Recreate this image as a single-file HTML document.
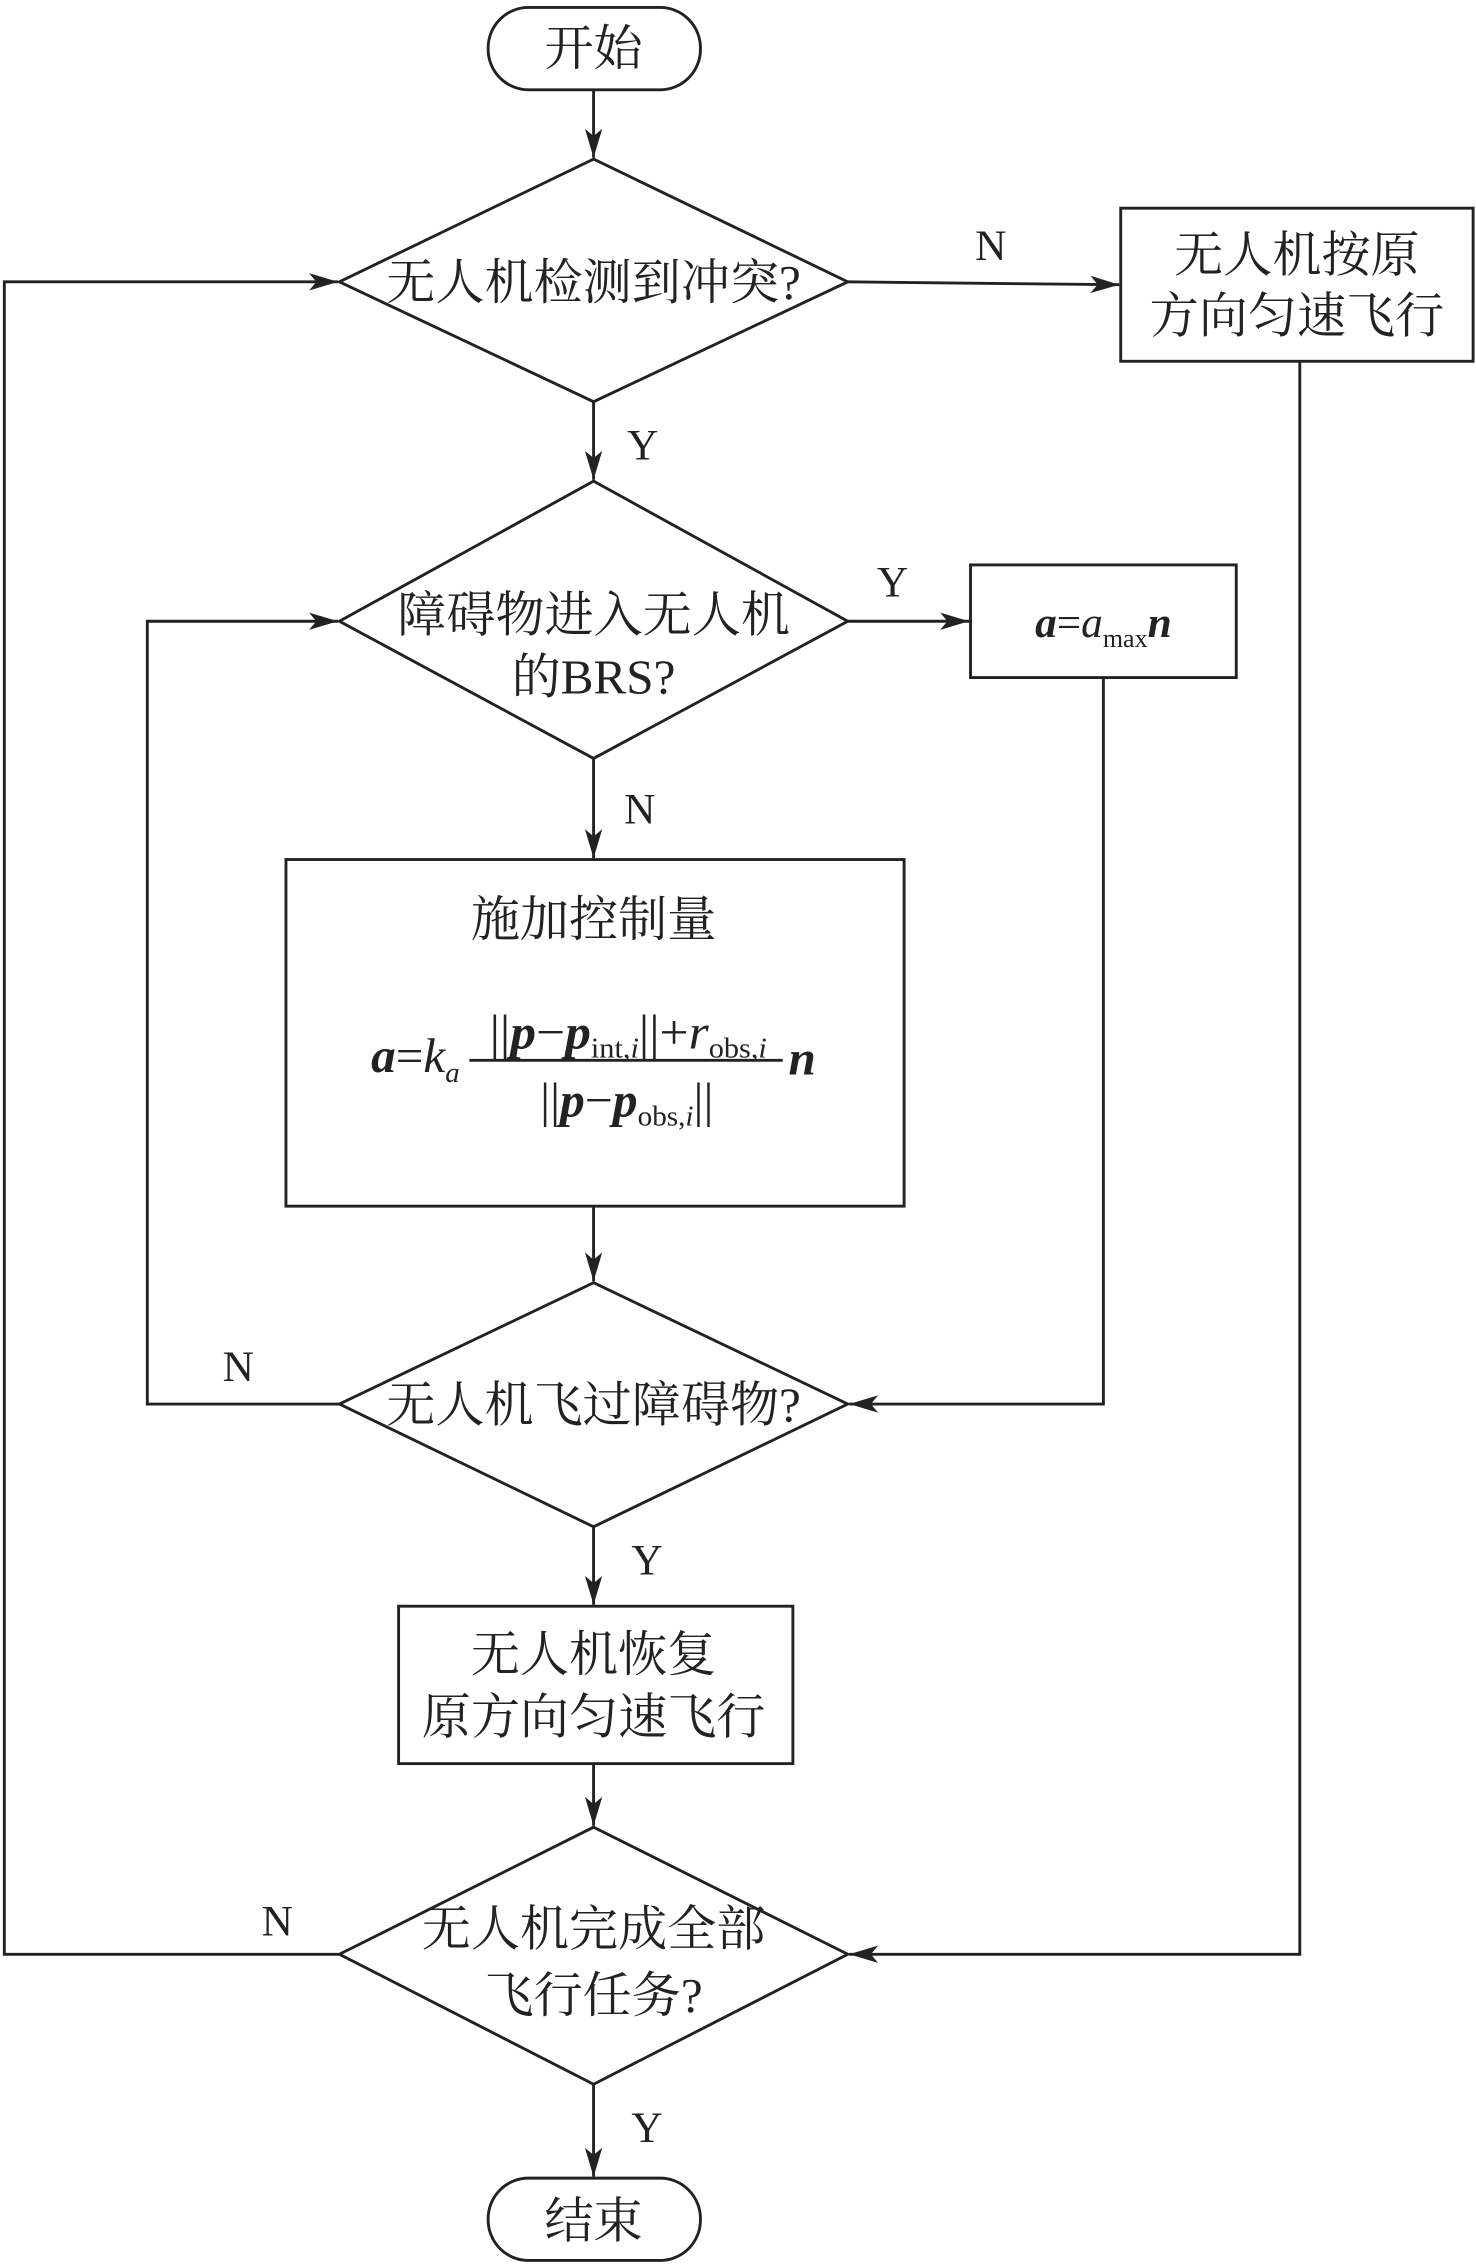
<!DOCTYPE html>
<html><head><meta charset="utf-8">
<style>
html,body{margin:0;padding:0;background:#fff;}
svg{display:block;}
text{font-family:"Liberation Serif","Noto Serif CJK SC",serif;fill:#222;}
</style></head><body>
<svg width="1476" height="2265" viewBox="0 0 1022 1568" xmlns="http://www.w3.org/2000/svg">
<defs>
<marker id="ar" viewBox="0 0 20 12" refX="20" refY="6" markerWidth="20" markerHeight="12" markerUnits="userSpaceOnUse" orient="auto">
<path d="M0,0 L20,6 L0,12 L5,6 Z" fill="#222"/>
</marker>
</defs>
<g stroke="#222" stroke-width="2" fill="none">
<rect x="338" y="5" width="147" height="57" rx="28"/>
<rect x="338" y="1508" width="147" height="57" rx="28"/>
<polygon points="411,110 587,195 411,278 235,195"/>
<polygon points="411,333 587,430 411,525 235,430"/>
<polygon points="411,888 587,972 411,1057 235,972"/>
<polygon points="411,1265 587,1353 411,1443 235,1353"/>
<rect x="776" y="144" width="244" height="106"/>
<rect x="672" y="391" width="184" height="78"/>
<rect x="198" y="595" width="428" height="240"/>
<rect x="276" y="1112" width="273" height="109"/>
<line x1="411" y1="62" x2="411" y2="109" marker-end="url(#ar)"/>
<line x1="587" y1="195" x2="775" y2="197" marker-end="url(#ar)"/>
<polyline points="900,250 900,1353 588,1353" marker-end="url(#ar)"/>
<polyline points="235,1353 3,1353 3,195 234,195" marker-end="url(#ar)"/>
<line x1="411" y1="278" x2="411" y2="332" marker-end="url(#ar)"/>
<line x1="587" y1="430" x2="671" y2="430" marker-end="url(#ar)"/>
<polyline points="764,469 764,972 588,972" marker-end="url(#ar)"/>
<line x1="411" y1="525" x2="411" y2="594" marker-end="url(#ar)"/>
<line x1="411" y1="835" x2="411" y2="887" marker-end="url(#ar)"/>
<polyline points="235,972 102,972 102,430 234,430" marker-end="url(#ar)"/>
<line x1="411" y1="1057" x2="411" y2="1111" marker-end="url(#ar)"/>
<line x1="411" y1="1221" x2="411" y2="1264" marker-end="url(#ar)"/>
<line x1="411" y1="1443" x2="411" y2="1507" marker-end="url(#ar)"/>
<line x1="325" y1="734" x2="542" y2="734" stroke-width="2"/>
</g>
<g font-size="34" text-anchor="middle">
<text x="411" y="45">开始</text>
<text x="411" y="1549">结束</text>
<text x="411" y="207">无人机检测到冲突?</text>
<text x="411" y="437">障碍物进入无人机</text>
<text x="411" y="480">的BRS?</text>
<text x="411" y="984">无人机飞过障碍物?</text>
<text x="411" y="1347">无人机完成全部</text>
<text x="411" y="1393">飞行任务?</text>
<text x="898" y="188">无人机按原</text>
<text x="898" y="230">方向匀速飞行</text>
<text x="411" y="1157">无人机恢复</text>
<text x="411" y="1200">原方向匀速飞行</text>
<text x="411" y="648">施加控制量</text>
<text x="686" y="180" font-size="30">N</text>
<text x="445" y="318" font-size="30">Y</text>
<text x="618" y="413" font-size="30">Y</text>
<text x="443" y="570" font-size="30">N</text>
<text x="165" y="956" font-size="30">N</text>
<text x="448" y="1090" font-size="30">Y</text>
<text x="192" y="1340" font-size="30">N</text>
<text x="448" y="1483" font-size="30">Y</text>
</g>
<text x="764" y="441" font-size="30" text-anchor="middle"><tspan font-weight="bold" font-style="italic">a</tspan>=<tspan font-style="italic">a</tspan><tspan font-size="18" dy="7">max</tspan><tspan font-weight="bold" font-style="italic" dy="-7">n</tspan></text>
<text x="257" y="742" font-size="34"><tspan font-weight="bold" font-style="italic">a</tspan>=<tspan font-style="italic">k</tspan><tspan font-size="20" font-style="italic" dy="7">a</tspan></text>
<text x="339" y="726" font-size="34" textLength="192" lengthAdjust="spacingAndGlyphs">||<tspan font-weight="bold" font-style="italic">p</tspan>−<tspan font-weight="bold" font-style="italic">p</tspan><tspan font-size="20" dy="6">int,<tspan font-style="italic">i</tspan></tspan><tspan dy="-6">||+<tspan font-style="italic">r</tspan></tspan><tspan font-size="20" dy="6">obs,<tspan font-style="italic">i</tspan></tspan></text>
<text x="374" y="773" font-size="34" textLength="120" lengthAdjust="spacingAndGlyphs">||<tspan font-weight="bold" font-style="italic">p</tspan>−<tspan font-weight="bold" font-style="italic">p</tspan><tspan font-size="20" dy="6">obs,<tspan font-style="italic">i</tspan></tspan><tspan dy="-6">||</tspan></text>
<text x="546" y="744" font-size="34" font-weight="bold" font-style="italic">n</text>
</svg>
</body></html>
